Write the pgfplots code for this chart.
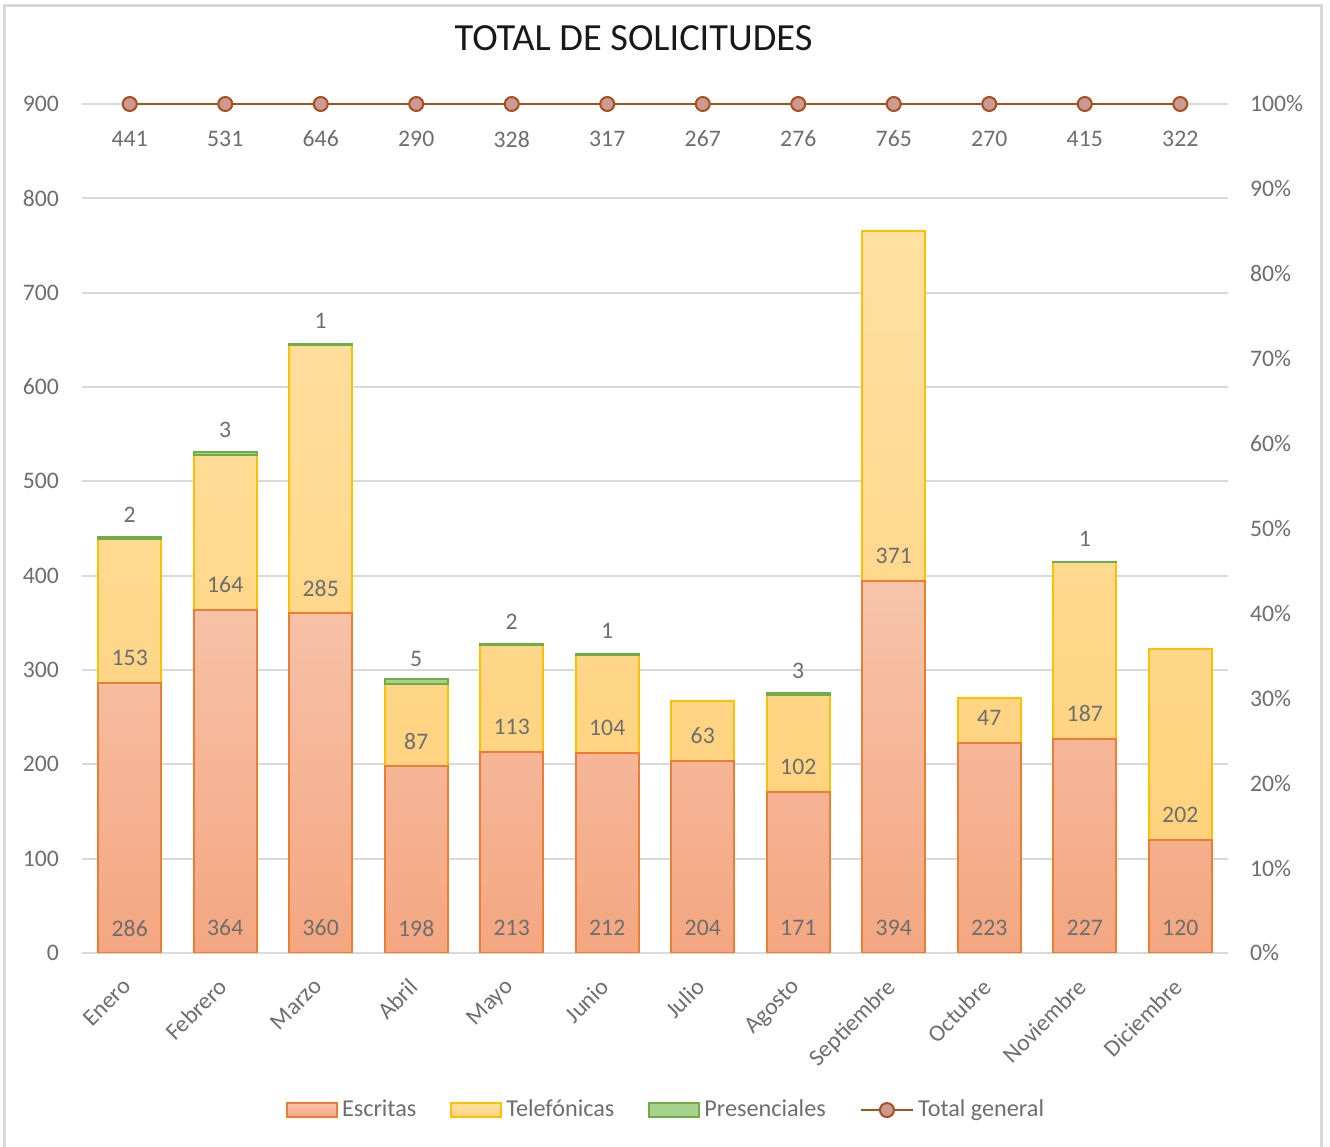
\documentclass[border=0pt]{standalone}
\usepackage{fontspec}
\setmainfont{Carlito}
\usepackage{pgfplots}
\pgfplotsset{compat=1.18}

\definecolor{txt}{HTML}{6E6E6E}
\definecolor{gridc}{HTML}{D9D9D9}
\definecolor{escE}{HTML}{ED7D31}
\definecolor{escT}{HTML}{F7C4AB}
\definecolor{escB}{HTML}{F4A681}
\definecolor{telE}{HTML}{FFC000}
\definecolor{telT}{HTML}{FFE1A3}
\definecolor{telB}{HTML}{FFD27D}
\definecolor{preE}{HTML}{70AD47}
\definecolor{preF}{HTML}{A9D18E}
\definecolor{totL}{HTML}{A5501E}
\definecolor{totF}{HTML}{CC9A92}

\pgfplotsset{
  base/.style={
    scale only axis, width=573pt, height=424.5pt,
    at={(41pt,97pt)}, anchor=south west,
    xmin=-0.5, xmax=11.5,
    font=\fontsize{11.85}{14}\selectfont,
    /pgf/number format/assume math mode=true,
    tick label style={text=txt},
    major tick length=0pt, tick style={draw=none},
    axis line style={draw=none},
  },
  bars/.style={base, ymin=0, ymax=900, ybar stacked, bar width=31.5pt},
  barleg/.style={legend image code/.code={\draw[##1] (0pt,-3.5pt) rectangle (25pt,3.5pt);}},
  lineleg/.style={legend image code/.code={\draw[mark repeat=2,mark phase=2,##1] plot coordinates {(0pt,0pt) (13pt,0pt) (26pt,0pt)};}},
  % label near the base of a stacked segment (nodes sit at the segment's middle)
  baselabel/.style={every node near coord/.append style={text=txt, anchor=center,
    yshift={(26.5-0.5*\rawy)*0.47167pt}}},
}

\begin{document}
\begin{tikzpicture}
\useasboundingbox (0,0) rectangle (665pt,573.5pt);
\fill[white] (0,0) rectangle (665pt,573.5pt);
\draw[gridc, line width=1.5pt] (2pt,-5pt) -- (2pt,570.5pt) -- (660.5pt,570.5pt) -- (660.5pt,-5pt);
\node[text=black!90] at (316.8pt,554.5pt) {\fontsize{19.2}{22}\selectfont TOTAL DE SOLICITUDES};

% --- bars: escritas + telefonicas ---
\begin{axis}[bars,
    ytick={0,100,...,900},
    ymajorgrids, grid style={gridc, line width=1pt},
    xtick={0,...,11},
    xticklabels={Enero,Febrero,Marzo,Abril,Mayo,Junio,Julio,Agosto,Septiembre,Octubre,Noviembre,Diciembre},
    xticklabel style={rotate=45, anchor=north east, xshift=-8pt, yshift=-2pt},
    yticklabel style={anchor=east, xshift=-8pt},
    visualization depends on=rawy\as\rawy,
    nodes near coords={\pgfmathprintnumber{\rawy}},
]
\addplot[draw=escE, line width=1pt, top color=escT, bottom color=escB, baselabel]
coordinates {(0,286) (1,364) (2,360) (3,198) (4,213) (5,212) (6,204) (7,171) (8,394) (9,223) (10,227) (11,120)};
\addplot[draw=telE, line width=1pt, top color=telT, bottom color=telB, baselabel]
coordinates {(0,153) (1,164) (2,285) (3,87) (4,113) (5,104) (6,63) (7,102) (8,371) (9,47) (10,187) (11,202)};
\end{axis}

% --- presenciales (only months with a value) ---
\begin{axis}[bars, hide axis]
\addplot[draw=none, fill=none]
coordinates {(0,439) (1,528) (2,645) (3,285) (4,326) (5,316) (7,273) (10,414)};
\addplot[draw=preE, fill=preF, line width=1pt,
    visualization depends on=rawy\as\rawy,
    nodes near coords={\pgfmathprintnumber{\rawy}},
    every node near coord/.append style={text=txt, anchor=center, yshift=11.6pt}]
coordinates {(0,2) (1,3) (2,1) (3,5) (4,2) (5,1) (7,3) (10,1)};
\end{axis}

% --- total general on the right axis ---
\begin{axis}[base, clip=false,
    ymin=0, ymax=100, ytick={0,10,...,100},
    yticklabel pos=right,
    yticklabel={\pgfmathprintnumber{\tick}\%},
    yticklabel style={anchor=west, xshift=7.5pt},
    xtick=\empty,
    legend style={draw=none, fill=none, at={(0.5105,-0.185)}, anchor=center,
      legend columns=4, font=\fontsize{12.1}{14}\selectfont, text=txt,
      /tikz/every even column/.append style={column sep=15pt}},
]
\addlegendimage{barleg, draw=escE, line width=1pt, top color=escT, bottom color=escB}
\addlegendentry{Escritas}
\addlegendimage{barleg, draw=telE, line width=1pt, top color=telT, bottom color=telB}
\addlegendentry{Telefónicas}
\addlegendimage{barleg, draw=preE, line width=1pt, fill=preF}
\addlegendentry{Presenciales}
\addplot[lineleg, totL, line width=1.2pt, mark=*, mark size=3.5pt,
    mark options={fill=totF, draw=totL, line width=1pt},
    point meta=explicit, nodes near coords,
    every node near coord/.append style={text=txt, anchor=center, yshift=-17.5pt}]
coordinates {(0,100) [441] (1,100) [531] (2,100) [646] (3,100) [290] (4,100) [328] (5,100) [317]
  (6,100) [267] (7,100) [276] (8,100) [765] (9,100) [270] (10,100) [415] (11,100) [322]};
\addlegendentry{Total general}
\end{axis}
\end{tikzpicture}
\end{document}
